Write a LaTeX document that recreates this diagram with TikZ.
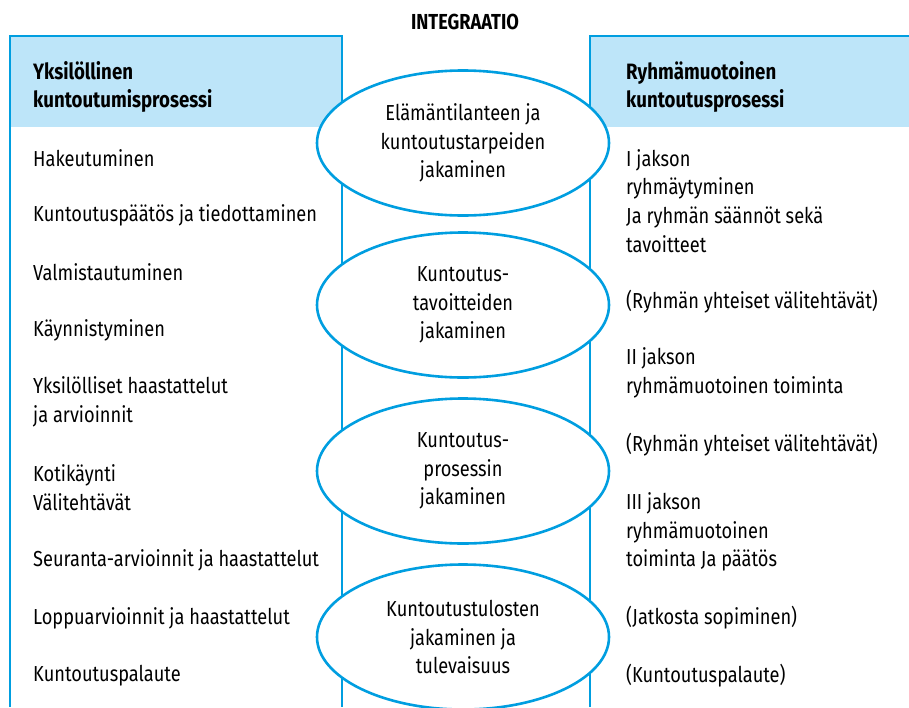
\documentclass[tikz,border=0pt]{standalone}
\usepackage{fontspec}
\setmainfont{Fira Sans}[FakeStretch=0.84]
\usepackage{tikz}
\usetikzlibrary{shapes.geometric}

\definecolor{panelblue}{RGB}{0,158,224}
\definecolor{headblue}{RGB}{189,229,249}

\begin{document}
\begin{tikzpicture}[x=1pt, y=-1pt,
    txt/.style={inner sep=0pt, anchor=west, align=left, font=\fontsize{21.7}{28.7}\selectfont},
    head/.style={txt, font=\fontsize{22.2}{28.7}\selectfont\bfseries},
    share/.style={draw=panelblue, line width=2.6pt, fill=white, ellipse, inner sep=0pt,
                  minimum width=292pt, minimum height=145pt, align=center,
                  font=\fontsize{21.7}{28.7}\selectfont}]
\useasboundingbox (0,0) rectangle (909,707);
% panels
\fill[headblue] (10,36) rectangle (342,127);
\fill[headblue] (590,36) rectangle (909,127);
\draw[panelblue, line width=2.6pt] (10,707) -- (10,36) -- (342,36) -- (342,707);
\draw[panelblue, line width=2.6pt] (590,707) -- (590,36) -- (912,36);
\node[head, anchor=center, font=\fontsize{21.7}{28.7}\selectfont\bfseries] (integ) at (465,22) {INTEGRAATIO};
% headers
\node[head] (yks)  at (33,87)  {Yksilöllinen\\kuntoutumisprosessi};
\node[head] (ryh)  at (626,87) {Ryhmämuotoinen\\kuntoutusprosessi};
% sharing ellipses
\node[share] (e1) at (463,143) {Elämäntilanteen ja\\kuntoutustarpeiden\\jakaminen};
\node[share] (e2) at (463,305) {Kuntoutus-\\tavoitteiden\\jakaminen};
\node[share] (e3) at (463,471) {Kuntoutus-\\prosessin\\jakaminen};
\node[share] (e4) at (463,637) {Kuntoutustulosten\\jakaminen ja\\tulevaisuus};
% individual process
\node[txt] (l1) at (33,158) {Hakeutuminen};
\node[txt] (l2) at (33,215) {Kuntoutuspäätös ja tiedottaminen};
\node[txt] (l3) at (33,272) {Valmistautuminen};
\node[txt] (l4) at (33,330) {Käynnistyminen};
\node[txt] (l5) at (33,402) {Yksilölliset haastattelut\\ja arvioinnit};
\node[txt] (l6) at (33,488) {Kotikäynti\\Välitehtävät};
\node[txt] (l7) at (33,560) {Seuranta-arvioinnit ja haastattelut};
\node[txt] (l8) at (33,618) {Loppuarvioinnit ja haastattelut};
\node[txt] (l9) at (33,676) {Kuntoutuspalaute};
% group process
\node[txt] (r1) at (626,201) {I jakson\\ryhmäytyminen\\Ja ryhmän säännöt sekä\\tavoitteet};
\node[txt] (r2) at (626,302) {(Ryhmän yhteiset välitehtävät)};
\node[txt] (r3) at (626,373) {II jakson\\ryhmämuotoinen toiminta};
\node[txt] (r4) at (626,445) {(Ryhmän yhteiset välitehtävät)};
\node[txt] (r5) at (626,532) {III jakson\\ryhmämuotoinen\\toiminta Ja päätös};
\node[txt] (r6) at (626,618) {(Jatkosta sopiminen)};
\node[txt] (r7) at (626,676) {(Kuntoutuspalaute)};
\end{tikzpicture}
\end{document}
